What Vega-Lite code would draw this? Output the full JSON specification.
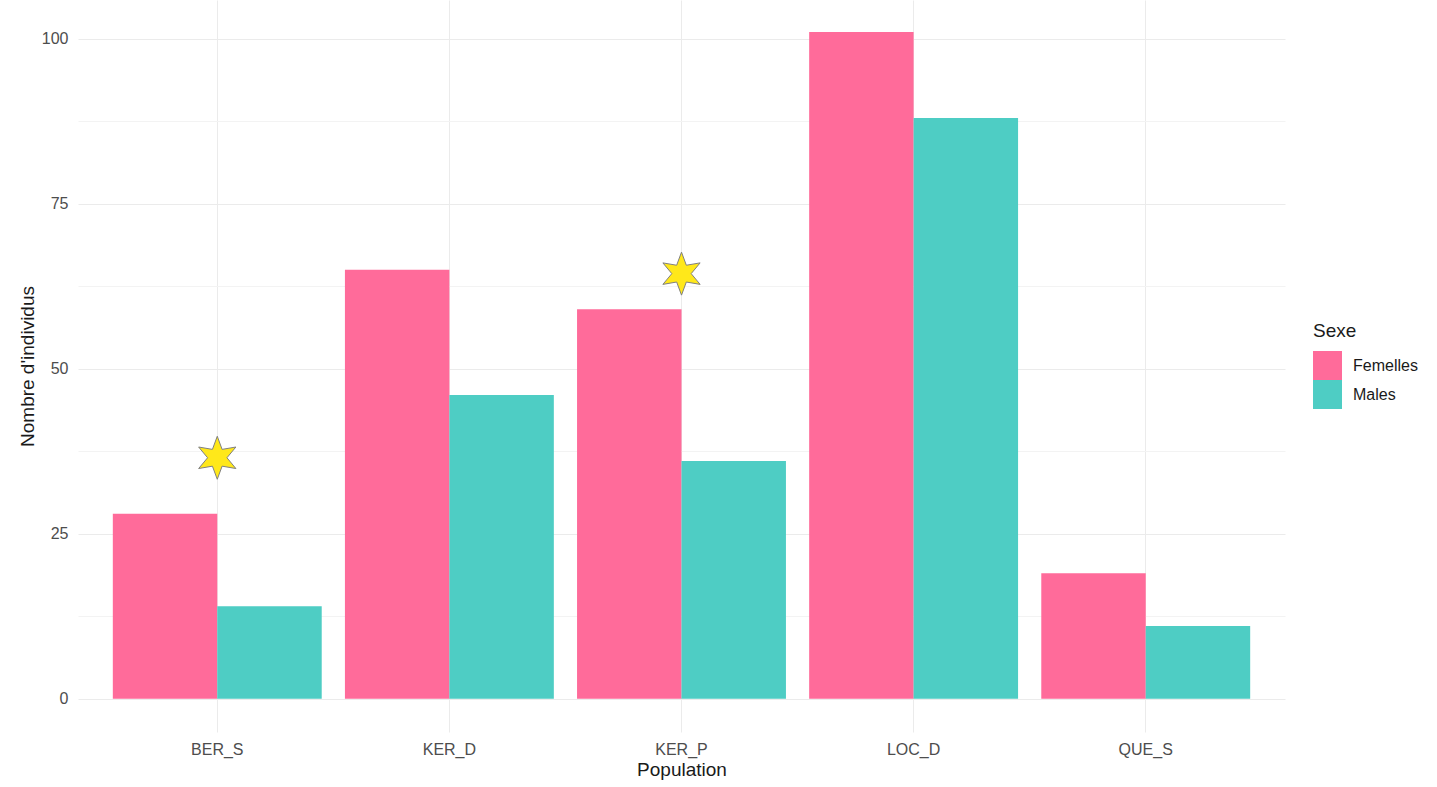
{
  "$schema": "https://vega.github.io/schema/vega-lite/v6.json",
  "autosize": {"type": "none"},
  "padding": {"left": 78, "top": 0, "right": 152, "bottom": 55},
  "width": 1207,
  "height": 732,
  "background": "white",
  "config": {
    "font": "Liberation Sans",
    "view": {"stroke": null}
  },
  "datasets": {
    "bars": [
      {"Population": "BER_S", "Sexe": "Femelles", "n": 28},
      {"Population": "BER_S", "Sexe": "Males", "n": 14},
      {"Population": "KER_D", "Sexe": "Femelles", "n": 65},
      {"Population": "KER_D", "Sexe": "Males", "n": 46},
      {"Population": "KER_P", "Sexe": "Femelles", "n": 59},
      {"Population": "KER_P", "Sexe": "Males", "n": 36},
      {"Population": "LOC_D", "Sexe": "Femelles", "n": 101},
      {"Population": "LOC_D", "Sexe": "Males", "n": 88},
      {"Population": "QUE_S", "Sexe": "Femelles", "n": 19},
      {"Population": "QUE_S", "Sexe": "Males", "n": 11}
    ],
    "stars": [
      {"Population": "BER_S", "y": 36.5},
      {"Population": "KER_P", "y": 64.4}
    ]
  },
  "layer": [
    {
      "data": {"name": "bars"},
      "mark": {"type": "bar"},
      "encoding": {
        "x": {
          "field": "Population",
          "type": "nominal",
          "sort": ["BER_S", "KER_D", "KER_P", "LOC_D", "QUE_S"],
          "scale": {"paddingInner": 0.1, "paddingOuter": 0.15},
          "axis": {
            "title": "Population",
            "titleFontSize": 19,
            "titleFontWeight": "normal",
            "titleColor": "#1a1a1a",
            "titlePadding": 3,
            "labelFontSize": 16,
            "labelColor": "#4d4d4d",
            "labelPadding": 9,
            "labelAngle": 0,
            "ticks": false,
            "domain": false,
            "grid": true,
            "gridColor": "#ebebeb",
            "gridWidth": 1,
            "bandPosition": 0.5
          }
        },
        "xOffset": {
          "field": "Sexe",
          "type": "nominal",
          "scale": {"paddingInner": 0, "paddingOuter": 0}
        },
        "y": {
          "field": "n",
          "type": "quantitative",
          "scale": {"domain": [-5.05, 105.86], "nice": false, "zero": false},
          "axis": {
            "title": "Nombre d'individus",
            "titleFontSize": 19,
            "titleFontWeight": "normal",
            "titleColor": "#1a1a1a",
            "titlePadding": 4,
            "values": [0, 12.5, 25, 37.5, 50, 62.5, 75, 87.5, 100],
            "labelExpr": "datum.value % 25 === 0 ? datum.label : ''",
            "labelFontSize": 16,
            "labelColor": "#4d4d4d",
            "labelPadding": 10,
            "ticks": false,
            "domain": false,
            "grid": true,
            "gridColor": {"condition": {"test": "datum.value % 25 === 0", "value": "#ebebeb"}, "value": "#f3f3f3"},
            "gridWidth": 1
          }
        },
        "color": {
          "field": "Sexe",
          "type": "nominal",
          "scale": {"domain": ["Femelles", "Males"], "range": ["#FF6B9A", "#4ECDC4"]},
          "legend": {
            "orient": "none",
            "legendX": 1235,
            "legendY": 322,
            "title": "Sexe",
            "titleFontSize": 19,
            "titleFontWeight": "normal",
            "titleColor": "#1a1a1a",
            "titlePadding": 10,
            "labelFontSize": 16,
            "labelColor": "#1a1a1a",
            "labelOffset": 11,
            "symbolType": "square",
            "symbolSize": 841,
            "symbolStrokeWidth": 0,
            "rowPadding": 0
          }
        }
      }
    },
    {
      "data": {"name": "stars"},
      "mark": {
        "type": "point",
        "shape": "M0,-1 L0.225,-0.39 L0.866,-0.5 L0.45,0 L0.866,0.5 L0.225,0.39 L0,1 L-0.225,0.39 L-0.866,0.5 L-0.45,0 L-0.866,-0.5 L-0.225,-0.39 Z",
        "filled": true,
        "fill": "#FFE81A",
        "stroke": "#808080",
        "strokeWidth": 1,
        "size": 1849,
        "opacity": 1
      },
      "encoding": {
        "x": {"field": "Population", "type": "nominal", "sort": ["BER_S", "KER_D", "KER_P", "LOC_D", "QUE_S"]},
        "y": {"field": "y", "type": "quantitative"}
      }
    }
  ]
}
